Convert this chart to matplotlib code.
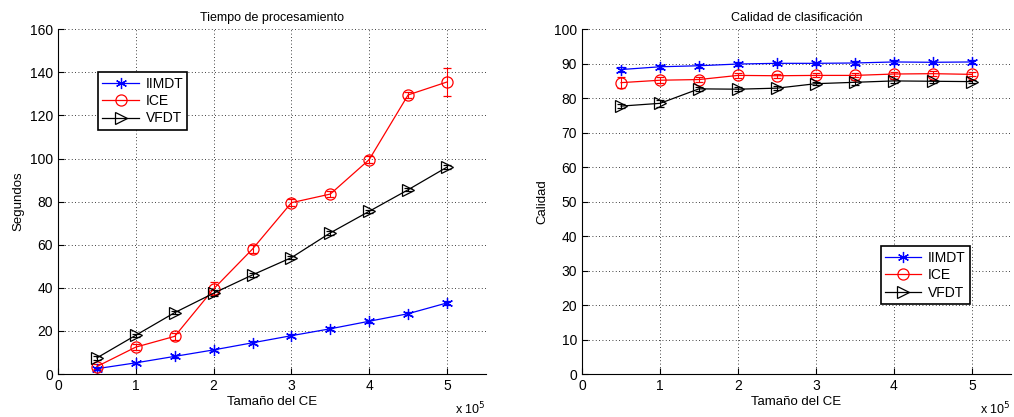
import matplotlib.pyplot as plt
from matplotlib.lines import Line2D

plt.rcParams["font.family"] = ["Liberation Sans", "DejaVu Sans"]

# tamaños del conjunto de entrenamiento (x 10^5)
tam = [0.5, 1.0, 1.5, 2.0, 2.5, 3.0, 3.5, 4.0, 4.5, 5.0]

# tiempo de procesamiento (segundos)
t_iimdt = [2.5, 5.2, 8.2, 11.2, 14.5, 17.8, 21.0, 24.5, 28.0, 33.0]
t_ice = [3.5, 12.5, 17.5, 39.5, 58.0, 79.5, 83.5, 99.5, 129.5, 135.5]
t_vfdt = [7.5, 18.0, 28.5, 37.5, 46.0, 54.0, 65.5, 75.5, 85.5, 96.0]
e_t_iimdt = [0.8, 0.6, 0.6, 0.6, 0.7, 0.7, 0.7, 0.8, 0.8, 0.9]
e_t_ice = [1.0, 1.5, 1.5, 3.0, 1.8, 1.5, 1.2, 1.8, 1.2, 6.5]
e_t_vfdt = [0.8, 0.8, 0.8, 1.5, 0.8, 0.8, 0.8, 0.8, 0.8, 0.8]

# calidad de clasificación
c_iimdt = [88.3, 89.1, 89.4, 89.9, 90.1, 90.1, 90.2, 90.5, 90.4, 90.5]
c_ice = [84.5, 85.2, 85.4, 86.6, 86.5, 86.6, 86.6, 87.0, 87.1, 86.9]
c_vfdt = [77.7, 78.5, 82.7, 82.6, 82.9, 84.2, 84.6, 85.0, 84.9, 84.8]
e_c_iimdt = [0.6, 0.6, 0.6, 0.5, 0.5, 0.5, 0.5, 0.5, 0.5, 0.5]
e_c_ice = [1.5, 0.9, 0.8, 0.7, 0.6, 0.6, 0.6, 0.7, 0.7, 0.6]
e_c_vfdt = [0.6, 1.0, 0.6, 0.5, 0.5, 0.5, 0.7, 0.6, 0.5, 0.5]

nombres = ["IIMDT", "ICE", "VFDT"]
colores = ["blue", "red", "black"]
marcas = [(6, 2, 0), "o", ">"]   # asterisco, círculo, triángulo

fig = plt.figure(figsize=(10.14, 4.17), dpi=100)
ax1 = fig.add_axes([0.0572, 0.103, 0.422, 0.827])
ax2 = fig.add_axes([0.574, 0.103, 0.423, 0.827])


def dibuja(ax, series, errores):
    for y, e, c, m in zip(series, errores, colores, marcas):
        ax.errorbar(tam, y, yerr=e, color=c, marker=m, markersize=8,
                    markerfacecolor="none", markeredgecolor=c,
                    markeredgewidth=0.9, linewidth=0.9,
                    elinewidth=0.8, capsize=3)


def leyenda(ax, pos):
    h = [Line2D([], [], color=c, marker=m, markersize=8, markerfacecolor="none",
                markeredgecolor=c, markeredgewidth=0.9, linewidth=0.9)
         for c, m in zip(colores, marcas)]
    leg = ax.legend(h, nombres, loc="upper left", bbox_to_anchor=pos,
                    fontsize=10, fancybox=False, framealpha=1,
                    edgecolor="black", handlelength=2.6, borderpad=0.3,
                    labelspacing=0.25, handletextpad=0.5)
    leg.get_frame().set_linewidth(1.2)


def estilo(ax, ylim, yticks, titulo, ylabel):
    ax.set_xlim(0, 5.5)
    ax.set_ylim(*ylim)
    ax.set_xticks([0, 1, 2, 3, 4, 5])
    ax.set_yticks(yticks)
    ax.grid(True, color="black", linestyle=(0, (1, 3)), linewidth=0.6)
    ax.spines["top"].set_visible(False)
    ax.spines["right"].set_visible(False)
    ax.tick_params(direction="in", labelsize=10, length=4)
    ax.set_title(titulo, fontsize=9)
    ax.set_xlabel("Tamaño del CE", fontsize=9.5, labelpad=2)
    ax.set_ylabel(ylabel, fontsize=9.5)
    ax.text(1.0, -0.077, r"x 10$^5$", transform=ax.transAxes,
            ha="right", va="top", fontsize=9)


dibuja(ax1, [t_iimdt, t_ice, t_vfdt], [e_t_iimdt, e_t_ice, e_t_vfdt])
estilo(ax1, (0, 160), range(0, 161, 20), "Tiempo de procesamiento", "Segundos")
leyenda(ax1, (0.078, 0.895))

dibuja(ax2, [c_iimdt, c_ice, c_vfdt], [e_c_iimdt, e_c_ice, e_c_vfdt])
estilo(ax2, (0, 100), range(0, 101, 10), "Calidad de clasificación", "Calidad")
leyenda(ax2, (0.68, 0.39))

fig.savefig("out.png", dpi=100)
